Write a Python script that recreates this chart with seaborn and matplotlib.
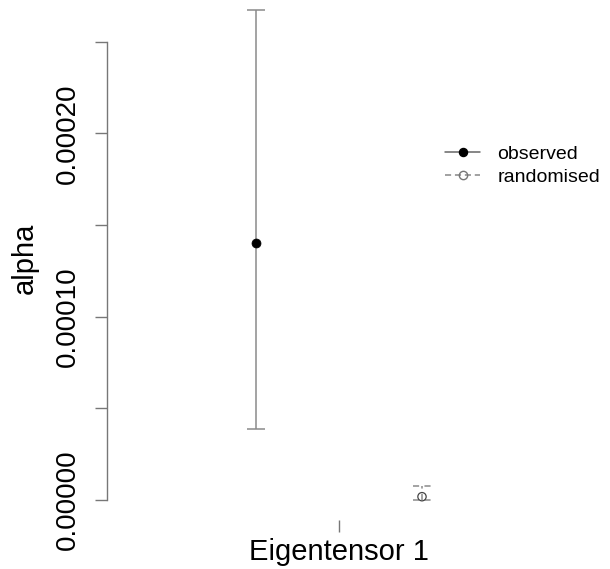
import numpy as np
import pandas as pd
import matplotlib
matplotlib.use("Agg")
import matplotlib.pyplot as plt
from matplotlib.lines import Line2D
import seaborn as sns

# Estimates of alpha for the first eigentensor, with interval bounds
groups = ["observed", "randomised"]
alpha_mean = [0.0001402, 0.0000018]
alpha_lower = [0.0000387, 0.0000000]
alpha_upper = [0.0002675, 0.0000078]
x_label = "Eigentensor 1"
y_label = "alpha"
y_ticks = [0.0, 0.00005, 0.0001, 0.00015, 0.0002, 0.00025]
y_tick_labels = ["0.00000", "", "0.00010", "", "0.00020", ""]

df = pd.DataFrame({"group": groups, "alpha": alpha_mean,
                   "lower": alpha_lower, "upper": alpha_upper})
# side-by-side placement around the single category
df["pos"] = 1 + np.array([-0.1, 0.1])

sns.set_style("white")
plt.rcParams["font.family"] = ["Liberation Sans", "DejaVu Sans"]
plt.rcParams["text.color"] = "black"
plt.rcParams["xtick.color"] = "black"
plt.rcParams["ytick.color"] = "black"

W, H = 610, 569
fig = plt.figure(figsize=(W / 100, H / 100), dpi=100)
ax = fig.add_axes([107 / W, (H - 520) / H, (590 - 107) / W, 520 / H])

grey = "#8a8a8a"
axis_grey = "#777777"
cap_half = 0.0105
styles = {"observed": "-", "randomised": (0, (4, 3.5))}

for _, r in df.iterrows():
    ls = styles[r["group"]]
    ax.vlines(r["pos"], r["lower"], r["upper"], color=grey, lw=1.1,
              linestyles=[ls], clip_on=False)
    ax.hlines([r["lower"], r["upper"]], r["pos"] - cap_half, r["pos"] + cap_half,
              color=grey, lw=1.1, linestyles=[ls], clip_on=False)

obs = df[df["group"] == "observed"]
rnd = df[df["group"] == "randomised"]
sns.scatterplot(data=obs, x="pos", y="alpha", ax=ax, s=42, color="black",
                edgecolor="black", linewidth=0.5, legend=False, zorder=3)
sns.scatterplot(data=rnd, x="pos", y="alpha", ax=ax, s=36, marker="o",
                facecolor="none", edgecolor="#444444", linewidth=0.9,
                legend=False, zorder=3)

ax.set_xlim(1 - 232 / 830, 1 + 251 / 830)
ax.set_ylim(-20 / 1833000, 500 / 1833000)

for s in ["top", "right", "bottom"]:
    ax.spines[s].set_visible(False)
ax.spines["left"].set_bounds(0, 0.00025)
ax.spines["left"].set_color(axis_grey)
ax.spines["left"].set_linewidth(1.0)

ax.set_yticks(y_ticks)
ax.set_yticklabels(y_tick_labels, rotation=90, va="center", ha="right",
                   fontsize=20, color="black")
ax.tick_params(axis="y", length=8.6, width=1.0, color=axis_grey, pad=10,
               left=True, direction="out", labelcolor="black")
ax.set_xticks([1])
ax.set_xticklabels([x_label], fontsize=21, color="black")
ax.tick_params(axis="x", length=8.6, width=1.0, color=axis_grey, pad=4,
               bottom=True, direction="out", labelcolor="black")
ax.set_xlabel("")
ax.set_ylabel("")
fig.text(25 / W, 1 - 258 / H, y_label, rotation=90, ha="center", va="center",
         fontsize=21, color="black")

handles = [
    Line2D([], [], color="#666666", lw=1.1, ls="-", marker="o", ms=5.8,
           mfc="black", mec="black"),
    Line2D([], [], color="#888888", lw=1.1, ls=(0, (4, 2.5)), marker="o", ms=6,
           mfc="none", mec="#777777"),
]
leg = ax.legend(handles, groups, loc="upper left", frameon=False, fontsize=14,
                bbox_to_anchor=(445 / W, 1 - 145 / H),
                bbox_transform=fig.transFigure,
                borderpad=0, borderaxespad=0, handlelength=1.8,
                handletextpad=0.9, labelspacing=0.3)
for t in leg.get_texts():
    t.set_color("black")

fig.savefig("out.png", dpi=100, facecolor="white")
